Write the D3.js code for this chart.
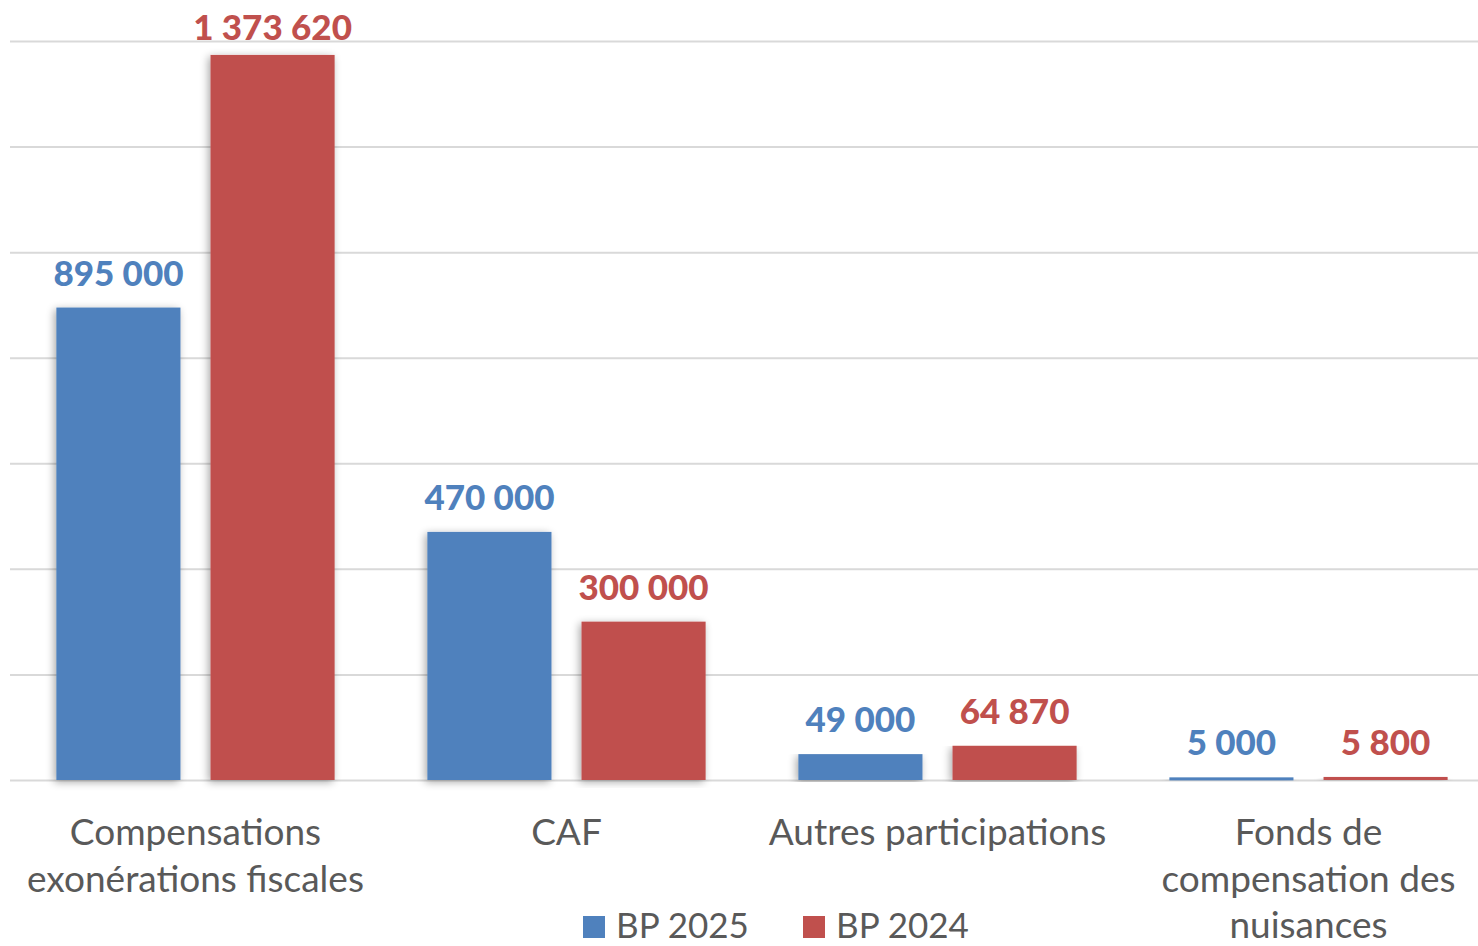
<!DOCTYPE html>
<html>
<head>
<meta charset="utf-8">
<script src="https://cdn.jsdelivr.net/npm/d3@7"></script>
<style>
  body { margin: 0; background: #fff; overflow: hidden; }
  text { font-family: Lato, "Open Sans", sans-serif; }
</style>
</head>
<body>
<div id="chart"></div>
<script>
// data
var categories = [
  ["Compensations", "exonérations fiscales"],
  ["CAF"],
  ["Autres participations"],
  ["Fonds de", "compensation des", "nuisances"]
];
var seriesNames = ["BP 2025", "BP 2024"];
var bp2025 = [895000, 470000, 49000, 5000];
var bp2024 = [1373620, 300000, 64870, 5800];
var yTicks = [0, 200000, 400000, 600000, 800000, 1000000, 1200000, 1400000];

var colors = ["#4F81BD", "#C0504D"];

var width = 1478, height = 946;
var plotLeft = 10, plotRight = 1494, plotTop = 41, plotBottom = 780;

var svg = d3.select("#chart").append("svg")
  .attr("width", width)
  .attr("height", height);

// soft shadow behind the bars
var defs = svg.append("defs");
var f = defs.append("filter").attr("id", "shadow")
  .attr("x", "-20%").attr("y", "-5%").attr("width", "140%").attr("height", "110%");
f.append("feGaussianBlur").attr("in", "SourceAlpha").attr("stdDeviation", 4).attr("result", "b");
f.append("feOffset").attr("in", "b").attr("dx", -2).attr("dy", 2).attr("result", "o");
f.append("feComponentTransfer").attr("in", "o").attr("result", "s")
  .append("feFuncA").attr("type", "linear").attr("slope", 0.35);
var fm = f.append("feMerge");
fm.append("feMergeNode").attr("in", "s");
fm.append("feMergeNode").attr("in", "SourceGraphic");

var fr = d3.formatLocale({ decimal: ",", thousands: " ", grouping: [3], currency: ["", " €"] });
var fmt = fr.format(",d");

var x0 = d3.scaleBand()
  .domain(d3.range(categories.length))
  .range([plotLeft, plotRight])
  .paddingInner(0.25)
  .paddingOuter(0.125);

var x1 = d3.scaleBand()
  .domain(d3.range(seriesNames.length))
  .range([0, x0.bandwidth()])
  .paddingInner(0.195);

var y = d3.scaleLinear()
  .domain([0, 1400000])
  .range([plotBottom, plotTop]);

// gridlines
var yAxis = d3.axisLeft(y)
  .tickValues(yTicks)
  .tickSize(-(plotRight - plotLeft))
  .tickFormat("");

svg.append("g")
  .attr("class", "grid")
  .attr("transform", "translate(" + plotLeft + ",0)")
  .call(yAxis)
  .call(function (g) {
    g.select(".domain").remove();
    g.selectAll("line").attr("stroke", "#D9D9D9").attr("stroke-width", 2);
  });

var series = [bp2025, bp2024];

var groups = svg.append("g").selectAll("g.cat")
  .data(categories)
  .enter().append("g")
  .attr("class", "cat")
  .attr("transform", function (d, i) { return "translate(" + x0(i) + ",0)"; });

groups.selectAll("rect")
  .data(function (d, i) { return series.map(function (s, k) { return { k: k, v: s[i] }; }); })
  .enter().append("rect")
  .attr("x", function (d) { return x1(d.k); })
  .attr("y", function (d) { return y(d.v); })
  .attr("width", x1.bandwidth())
  .attr("height", function (d) { return Math.max(y(0) - y(d.v), 3); })
  .attr("fill", function (d) { return colors[d.k]; })
  .attr("filter", "url(#shadow)");

// value labels, kept inside the picture at the top
groups.selectAll("text.val")
  .data(function (d, i) { return series.map(function (s, k) { return { k: k, v: s[i] }; }); })
  .enter().append("text")
  .attr("class", "val")
  .attr("x", function (d) { return x1(d.k) + x1.bandwidth() / 2; })
  .attr("y", function (d) { return Math.max(Math.min(y(d.v), y(0) - 3) - 22, 40); })
  .attr("text-anchor", "middle")
  .attr("font-size", 35)
  .attr("font-weight", "900")
  .attr("fill", function (d) { return colors[d.k]; })
  .text(function (d) { return fmt(d.v); });

// category labels
groups.append("text")
  .attr("class", "cat-label")
  .attr("x", x0.bandwidth() / 2)
  .attr("y", 845)
  .attr("text-anchor", "middle")
  .attr("font-size", 37)
  .attr("fill", "#595959")
  .selectAll("tspan")
  .data(function (d) { return d; })
  .enter().append("tspan")
  .attr("x", x0.bandwidth() / 2)
  .attr("dy", function (d, i) { return i === 0 ? 0 : 46.5; })
  .text(function (d) { return d; });

// legend
var legend = svg.append("g").attr("class", "legend");
var legX = [583, 803];
seriesNames.forEach(function (name, k) {
  legend.append("rect")
    .attr("x", legX[k]).attr("y", 916)
    .attr("width", 22).attr("height", 22)
    .attr("fill", colors[k]);
  legend.append("text")
    .attr("x", legX[k] + 33).attr("y", 938)
    .attr("font-size", 35)
    .attr("fill", "#595959")
    .text(name);
});
</script>
</body>
</html>
